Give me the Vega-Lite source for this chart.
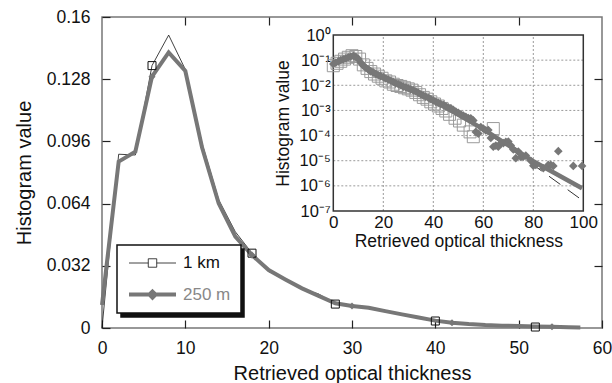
{
  "$schema": "https://vega.github.io/schema/vega-lite/v6.json",
  "width": 500,
  "height": 311,
  "autosize": {"type": "none"},
  "padding": {"left": 102, "top": 17, "right": 10, "bottom": 55},
  "background": "white",
  "config": {
    "font": "Liberation Sans",
    "view": {"stroke": "#777", "strokeWidth": 1.5},
    "axis": {"labelFont": "Liberation Sans", "titleFont": "Liberation Sans", "labelColor": "#111", "titleColor": "#111", "titleFontWeight": "normal", "labelFlush": false, "labelOverlap": false, "tickColor": "#222", "tickWidth": 1.2},
    "legend": {"labelFont": "Liberation Sans", "strokeWidth": 1.5}
  },
  "datasets": {
    "main": [
      {"series": "1 km", "x": 0, "y": 0},
      {"series": "1 km", "x": 2, "y": 0.0894},
      {"series": "1 km", "x": 4, "y": 0.089},
      {"series": "1 km", "x": 6, "y": 0.135},
      {"series": "1 km", "x": 8, "y": 0.1507},
      {"series": "1 km", "x": 10, "y": 0.133},
      {"series": "1 km", "x": 12, "y": 0.095},
      {"series": "1 km", "x": 14, "y": 0.066},
      {"series": "1 km", "x": 16, "y": 0.0495},
      {"series": "1 km", "x": 18, "y": 0.0385},
      {"series": "1 km", "x": 20, "y": 0.029},
      {"series": "1 km", "x": 22, "y": 0.0255},
      {"series": "1 km", "x": 24, "y": 0.02},
      {"series": "1 km", "x": 26, "y": 0.0175},
      {"series": "1 km", "x": 28, "y": 0.0123},
      {"series": "1 km", "x": 30, "y": 0.011},
      {"series": "1 km", "x": 32, "y": 0.01},
      {"series": "1 km", "x": 34, "y": 0.0085},
      {"series": "1 km", "x": 36, "y": 0.007},
      {"series": "1 km", "x": 38, "y": 0.0052},
      {"series": "1 km", "x": 40, "y": 0.0036},
      {"series": "1 km", "x": 42, "y": 0.0028},
      {"series": "1 km", "x": 44, "y": 0.002},
      {"series": "1 km", "x": 46, "y": 0.0015},
      {"series": "1 km", "x": 48, "y": 0.0011},
      {"series": "1 km", "x": 50, "y": 0.0008},
      {"series": "1 km", "x": 52, "y": 0.0005},
      {"series": "1 km", "x": 54, "y": 0.0004},
      {"series": "1 km", "x": 56, "y": 0.0002},
      {"series": "250 m", "x": 0, "y": 0.0118},
      {"series": "250 m", "x": 2, "y": 0.0856},
      {"series": "250 m", "x": 4, "y": 0.0907},
      {"series": "250 m", "x": 6, "y": 0.1293},
      {"series": "250 m", "x": 8, "y": 0.1418},
      {"series": "250 m", "x": 10, "y": 0.1322},
      {"series": "250 m", "x": 12, "y": 0.093},
      {"series": "250 m", "x": 14, "y": 0.0642},
      {"series": "250 m", "x": 16, "y": 0.047},
      {"series": "250 m", "x": 18, "y": 0.0375},
      {"series": "250 m", "x": 20, "y": 0.0298},
      {"series": "250 m", "x": 22, "y": 0.025},
      {"series": "250 m", "x": 24, "y": 0.0204},
      {"series": "250 m", "x": 26, "y": 0.0165},
      {"series": "250 m", "x": 28, "y": 0.0127},
      {"series": "250 m", "x": 30, "y": 0.0113},
      {"series": "250 m", "x": 32, "y": 0.0104},
      {"series": "250 m", "x": 34, "y": 0.0087},
      {"series": "250 m", "x": 36, "y": 0.007},
      {"series": "250 m", "x": 38, "y": 0.0054},
      {"series": "250 m", "x": 40, "y": 0.0038},
      {"series": "250 m", "x": 42, "y": 0.0027},
      {"series": "250 m", "x": 44, "y": 0.002},
      {"series": "250 m", "x": 46, "y": 0.0015},
      {"series": "250 m", "x": 48, "y": 0.0012},
      {"series": "250 m", "x": 50, "y": 0.001},
      {"series": "250 m", "x": 52, "y": 0.0008},
      {"series": "250 m", "x": 54, "y": 0.0006},
      {"series": "250 m", "x": 56, "y": 0.0004},
      {"series": "250 m", "x": 57.4, "y": 0.0002}
    ],
    "insetM": [
      {"x": 0, "y": 0.07}, {"x": 1, "y": 0.079}, {"x": 2, "y": 0.089}, {"x": 3, "y": 0.1},
      {"x": 4, "y": 0.107}, {"x": 5, "y": 0.117}, {"x": 6, "y": 0.13}, {"x": 7, "y": 0.14},
      {"x": 8, "y": 0.148}, {"x": 9, "y": 0.135}, {"x": 10, "y": 0.112}, {"x": 11, "y": 0.079},
      {"x": 12, "y": 0.06}, {"x": 13, "y": 0.05}, {"x": 14, "y": 0.042}, {"x": 15, "y": 0.036},
      {"x": 16, "y": 0.032}, {"x": 17, "y": 0.028}, {"x": 18, "y": 0.025}, {"x": 19, "y": 0.023},
      {"x": 20, "y": 0.021}, {"x": 21, "y": 0.0186}, {"x": 22, "y": 0.017}, {"x": 23, "y": 0.0151},
      {"x": 24, "y": 0.0135}, {"x": 25, "y": 0.012}, {"x": 26, "y": 0.011}, {"x": 27, "y": 0.01},
      {"x": 28, "y": 0.0089}, {"x": 29, "y": 0.0083}, {"x": 30, "y": 0.0076}, {"x": 31, "y": 0.0069},
      {"x": 32, "y": 0.0063}, {"x": 33, "y": 0.0058}, {"x": 34, "y": 0.005}, {"x": 35, "y": 0.0044},
      {"x": 36, "y": 0.0039}, {"x": 37, "y": 0.0035}, {"x": 38, "y": 0.0032}, {"x": 39, "y": 0.0028},
      {"x": 40, "y": 0.0025}, {"x": 41, "y": 0.0022}, {"x": 42, "y": 0.002}, {"x": 43, "y": 0.0018},
      {"x": 44, "y": 0.00166}, {"x": 45, "y": 0.00145}, {"x": 46, "y": 0.0013}, {"x": 47, "y": 0.0012},
      {"x": 48, "y": 0.00105}, {"x": 49, "y": 0.0009}, {"x": 50, "y": 0.0008}, {"x": 51, "y": 0.0007},
      {"x": 52, "y": 0.00063}, {"x": 53, "y": 0.00056}, {"x": 54, "y": 0.0005}, {"x": 55, "y": 0.00049},
      {"x": 56, "y": 0.0004}, {"x": 57, "y": 0.00014}, {"x": 58, "y": 0.00012}, {"x": 59, "y": 0.00022},
      {"x": 60, "y": 0.00019}, {"x": 61, "y": 0.00016}, {"x": 62, "y": 0.000166}, {"x": 63, "y": 0.00008},
      {"x": 64, "y": 0.000036}, {"x": 65, "y": 0.00004}, {"x": 66, "y": 0.000036}, {"x": 67, "y": 0.00005},
      {"x": 68, "y": 0.00005}, {"x": 69, "y": 0.000056}, {"x": 70, "y": 0.000058}, {"x": 71, "y": 0.00004},
      {"x": 72, "y": 0.000028}, {"x": 73, "y": 0.0000126}, {"x": 74, "y": 0.000023}, {"x": 75, "y": 0.000014},
      {"x": 76, "y": 0.0000145}, {"x": 77, "y": 0.000016}, {"x": 79, "y": 0.00001}, {"x": 80, "y": 0.0000063},
      {"x": 81, "y": 0.0000068}, {"x": 84, "y": 0.000005}, {"x": 86, "y": 0.0000068}, {"x": 87, "y": 0.0000068},
      {"x": 88, "y": 0.0000062}, {"x": 90, "y": 0.000024}, {"x": 96, "y": 0.0000062}, {"x": 99.5, "y": 0.0000062}
    ],
    "insetKm": [
      {"x": 0, "y": 0.06}, {"x": 1.5, "y": 0.075}, {"x": 3, "y": 0.09}, {"x": 4.5, "y": 0.11},
      {"x": 6, "y": 0.13}, {"x": 7.5, "y": 0.15}, {"x": 9, "y": 0.14}, {"x": 10.5, "y": 0.11},
      {"x": 12, "y": 0.065}, {"x": 13.5, "y": 0.047}, {"x": 15, "y": 0.035}, {"x": 16.5, "y": 0.028},
      {"x": 18, "y": 0.023}, {"x": 19.5, "y": 0.019}, {"x": 21, "y": 0.015}, {"x": 22.5, "y": 0.0135},
      {"x": 24, "y": 0.011}, {"x": 25.5, "y": 0.0098}, {"x": 27, "y": 0.009}, {"x": 28.5, "y": 0.008},
      {"x": 30, "y": 0.0072}, {"x": 31.5, "y": 0.0064}, {"x": 33, "y": 0.0052}, {"x": 34.5, "y": 0.0042},
      {"x": 36, "y": 0.0033}, {"x": 37.5, "y": 0.0028}, {"x": 39, "y": 0.0022}, {"x": 40.5, "y": 0.0018},
      {"x": 42, "y": 0.0015}, {"x": 43.5, "y": 0.0012}, {"x": 45, "y": 0.00095}, {"x": 46.5, "y": 0.0007},
      {"x": 48.7, "y": 0.00049}, {"x": 50.5, "y": 0.00038}, {"x": 52, "y": 0.00026}, {"x": 54.7, "y": 0.00014},
      {"x": 56, "y": 0.00009}, {"x": 64, "y": 0.00019}
    ],
    "fitM": [
      {"x": 0, "y": 0.07}, {"x": 4, "y": 0.107}, {"x": 8, "y": 0.148}, {"x": 10, "y": 0.112},
      {"x": 12, "y": 0.06}, {"x": 20, "y": 0.021}, {"x": 40, "y": 0.0025}, {"x": 60, "y": 0.00018},
      {"x": 80, "y": 0.0000095}, {"x": 99.5, "y": 0.0000008}
    ],
    "fitKm": [
      {"x": 0, "y": 0.06}, {"x": 8, "y": 0.15}, {"x": 12, "y": 0.065}, {"x": 20, "y": 0.02},
      {"x": 40, "y": 0.0023}, {"x": 56, "y": 0.0003}, {"x": 80, "y": 0.0000068}, {"x": 100, "y": 0.00000025}
    ],
    "gridX": [{"v": 20}, {"v": 40}, {"v": 60}, {"v": 80}],
    "gridY": [{"v": 0.000001}, {"v": 0.00001}, {"v": 0.0001}, {"v": 0.001}, {"v": 0.01}, {"v": 0.1}],
    "shadowKeys": [{"k": "a"}, {"k": "b"}]
  },
  "layer": [
    {
      "data": {"name": "shadowKeys"},
      "mark": {"type": "point", "opacity": 0},
      "encoding": {
        "x": {"datum": 0, "type": "quantitative", "scale": {"domain": [0, 60], "nice": false, "zero": false},
          "axis": {"orient": "top", "values": [10, 20, 30, 40, 50], "labels": false, "domain": false, "grid": false, "tickSize": -8, "title": null}},
        "y": {"datum": 0, "type": "quantitative", "scale": {"domain": [0, 0.16], "nice": false},
          "axis": {"orient": "right", "values": [0.032, 0.064, 0.096, 0.128], "labels": false, "domain": false, "grid": false, "tickSize": -8, "title": null}},
        "shape": {"field": "k", "type": "nominal", "scale": {"domain": ["a", "b"]},
          "legend": {"orient": "none", "legendX": 19, "legendY": 232, "title": null, "padding": 10, "strokeColor": "#111", "fillColor": "#111", "labelFontSize": 17, "labelOffset": 52, "rowPadding": 14.6, "clipHeight": 16, "symbolType": "M-1,0H1", "symbolSize": 2209, "symbolStrokeWidth": 4, "symbolOpacity": 0, "labelOpacity": 0, "labelExpr": "''"}}
      }
    },
    {
      "data": {"name": "main"},
      "mark": {"type": "line"},
      "encoding": {
        "x": {"field": "x", "type": "quantitative", "scale": {"domain": [0, 60], "nice": false, "zero": false},
          "axis": {"orient": "bottom", "values": [0, 10, 20, 30, 40, 50, 60], "domain": false, "grid": false, "tickSize": -8, "labelFontSize": 17.5, "labelPadding": 19, "title": "Retrieved optical thickness", "titleFontSize": 20, "titlePadding": 7}},
        "y": {"field": "y", "type": "quantitative", "scale": {"domain": [0, 0.16], "nice": false},
          "axis": {"orient": "left", "values": [0, 0.032, 0.064, 0.096, 0.128, 0.16], "format": ".3~f", "domain": false, "grid": false, "tickSize": -8, "labelFontSize": 17.5, "labelPadding": 20, "title": "Histogram value", "titleFontSize": 20, "titlePadding": 12}},
        "color": {"field": "series", "type": "nominal", "scale": {"domain": ["1 km", "250 m"], "range": ["#111111", "#777777"]},
          "legend": {"orient": "none", "legendX": 15, "legendY": 228, "title": null, "padding": 10, "strokeColor": "#111", "fillColor": "white", "labelFontSize": 17, "labelOffset": 5, "rowPadding": 14.6, "clipHeight": 16, "symbolSize": 2209,
            "encode": {
              "symbols": {"update": {
                "shape": [{"test": "datum.value === '1 km'", "value": "M-1,0H-0.18M0.18,0H1M-0.18,-0.18H0.18V0.18H-0.18Z"}, {"value": "M-1,0H1M0,-0.13L0.13,0L0,0.13L-0.13,0Z"}],
                "fill": [{"test": "datum.value === '1 km'", "value": "transparent"}, {"value": "#777777"}],
                "opacity": {"value": 1}
              }},
              "labels": {"update": {"fill": [{"test": "datum.value === '1 km'", "value": "#111111"}, {"value": "#888888"}]}}
            }}},
        "strokeWidth": {"field": "series", "type": "ordinal", "scale": {"domain": ["1 km", "250 m"], "range": [0.8, 4]},
          "legend": {"orient": "none", "legendX": 15, "legendY": 228, "title": null}}
      }
    },
    {
      "data": {"name": "main"},
      "transform": [{"filter": "datum.series === '1 km'"}, {"filter": {"field": "x", "oneOf": [6, 18, 28, 40, 52]}}],
      "mark": {"type": "point", "shape": "square", "size": 64, "filled": false, "stroke": "#111", "strokeWidth": 1, "opacity": 1},
      "encoding": {
        "x": {"field": "x", "type": "quantitative", "scale": {"domain": [0, 60], "nice": false, "zero": false}, "axis": null},
        "y": {"field": "y", "type": "quantitative", "scale": {"domain": [0, 0.16], "nice": false}, "axis": null}
      }
    },
    {
      "data": {"name": "main"},
      "transform": [{"filter": "datum.series === '250 m'"}, {"filter": {"field": "x", "oneOf": [6, 18, 30, 42, 54]}}],
      "mark": {"type": "point", "shape": "diamond", "size": 50, "filled": true, "color": "#777777", "opacity": 1},
      "encoding": {
        "x": {"field": "x", "type": "quantitative", "scale": {"domain": [0, 60], "nice": false, "zero": false}, "axis": null},
        "y": {"field": "y", "type": "quantitative", "scale": {"domain": [0, 0.16], "nice": false}, "axis": null}
      }
    },
    {
      "data": {"name": "gridX"},
      "mark": {"type": "rule", "stroke": "#9a9a9a", "strokeWidth": 1, "strokeDash": [2, 2]},
      "encoding": {
        "x": {"field": "v", "type": "quantitative", "scale": {"domain": [0, 100], "range": [231.3, 481.3], "nice": false, "zero": false}, "axis": null},
        "y": {"datum": 0.0000001, "type": "quantitative", "scale": {"type": "log", "domain": [0.0000001, 1], "range": [194, 18], "nice": false}, "axis": null},
        "y2": {"datum": 1}
      }
    },
    {
      "data": {"name": "gridY"},
      "mark": {"type": "rule", "stroke": "#9a9a9a", "strokeWidth": 1, "strokeDash": [2, 2]},
      "encoding": {
        "y": {"field": "v", "type": "quantitative", "scale": {"type": "log", "domain": [0.0000001, 1], "range": [194, 18], "nice": false}, "axis": null},
        "x": {"datum": 0, "type": "quantitative", "scale": {"domain": [0, 100], "range": [231.3, 481.3], "nice": false, "zero": false}, "axis": null},
        "x2": {"datum": 100}
      }
    },
    {
      "data": {"values": [{}]},
      "mark": {"type": "rect", "fill": "transparent", "stroke": "#333333", "strokeWidth": 1.5},
      "encoding": {
        "x": {"datum": 0, "type": "quantitative", "scale": {"domain": [0, 100], "range": [231.3, 481.3], "nice": false, "zero": false},
          "axis": {"orient": "bottom", "offset": -117, "values": [0, 20, 40, 60, 80, 100], "domain": false, "ticks": false, "grid": false, "labelFontSize": 17, "labelPadding": 3, "title": "Retrieved optical thickness", "titleFontSize": 17.5, "titlePadding": 2}},
        "x2": {"datum": 100},
        "y": {"datum": 0.0000001, "type": "quantitative", "scale": {"type": "log", "domain": [0.0000001, 1], "range": [194, 18], "nice": false},
          "axis": {"orient": "left", "offset": -231.3, "values": [0.0000001, 0.000001, 0.00001, 0.0001, 0.001, 0.01, 0.1, 1], "labelExpr": "datum.value >= 0.5 ? '10⁰' : datum.value >= 0.05 ? '10⁻¹' : datum.value >= 0.005 ? '10⁻²' : datum.value >= 0.0005 ? '10⁻³' : datum.value >= 0.00005 ? '10⁻⁴' : datum.value >= 0.000005 ? '10⁻⁵' : datum.value >= 0.0000005 ? '10⁻⁶' : '10⁻⁷'", "domain": false, "ticks": false, "grid": false, "labelFontSize": 16.5, "labelPadding": 3, "title": "Histogram value", "titleFontSize": 17.5, "titlePadding": 6}},
        "y2": {"datum": 1}
      }
    },
    {
      "data": {"name": "insetKm"},
      "mark": {"type": "point", "shape": "square", "size": 144, "filled": false, "stroke": "#9a9a9a", "strokeWidth": 1, "opacity": 1},
      "encoding": {
        "x": {"field": "x", "type": "quantitative", "scale": {"domain": [0, 100], "range": [231.3, 481.3], "nice": false, "zero": false}, "axis": null},
        "y": {"field": "y", "type": "quantitative", "scale": {"type": "log", "domain": [0.0000001, 1], "range": [194, 18], "nice": false}, "axis": null}
      }
    },
    {
      "data": {"name": "fitKm"},
      "mark": {"type": "line", "stroke": "#333333", "strokeWidth": 1, "strokeDash": [14, 9]},
      "encoding": {
        "x": {"field": "x", "type": "quantitative", "scale": {"domain": [0, 100], "range": [231.3, 481.3], "nice": false, "zero": false}, "axis": null},
        "y": {"field": "y", "type": "quantitative", "scale": {"type": "log", "domain": [0.0000001, 1], "range": [194, 18], "nice": false}, "axis": null}
      }
    },
    {
      "data": {"name": "insetM"},
      "mark": {"type": "point", "shape": "diamond", "size": 75, "filled": true, "color": "#777777", "opacity": 1},
      "encoding": {
        "x": {"field": "x", "type": "quantitative", "scale": {"domain": [0, 100], "range": [231.3, 481.3], "nice": false, "zero": false}, "axis": null},
        "y": {"field": "y", "type": "quantitative", "scale": {"type": "log", "domain": [0.0000001, 1], "range": [194, 18], "nice": false}, "axis": null}
      }
    },
    {
      "data": {"name": "fitM"},
      "mark": {"type": "line", "stroke": "#777777", "strokeWidth": 4.5},
      "encoding": {
        "x": {"field": "x", "type": "quantitative", "scale": {"domain": [0, 100], "range": [231.3, 481.3], "nice": false, "zero": false}, "axis": null},
        "y": {"field": "y", "type": "quantitative", "scale": {"type": "log", "domain": [0.0000001, 1], "range": [194, 18], "nice": false}, "axis": null}
      }
    }
  ],
  "resolve": {"scale": {"x": "independent", "y": "independent"}, "axis": {"x": "independent", "y": "independent"}}
}
